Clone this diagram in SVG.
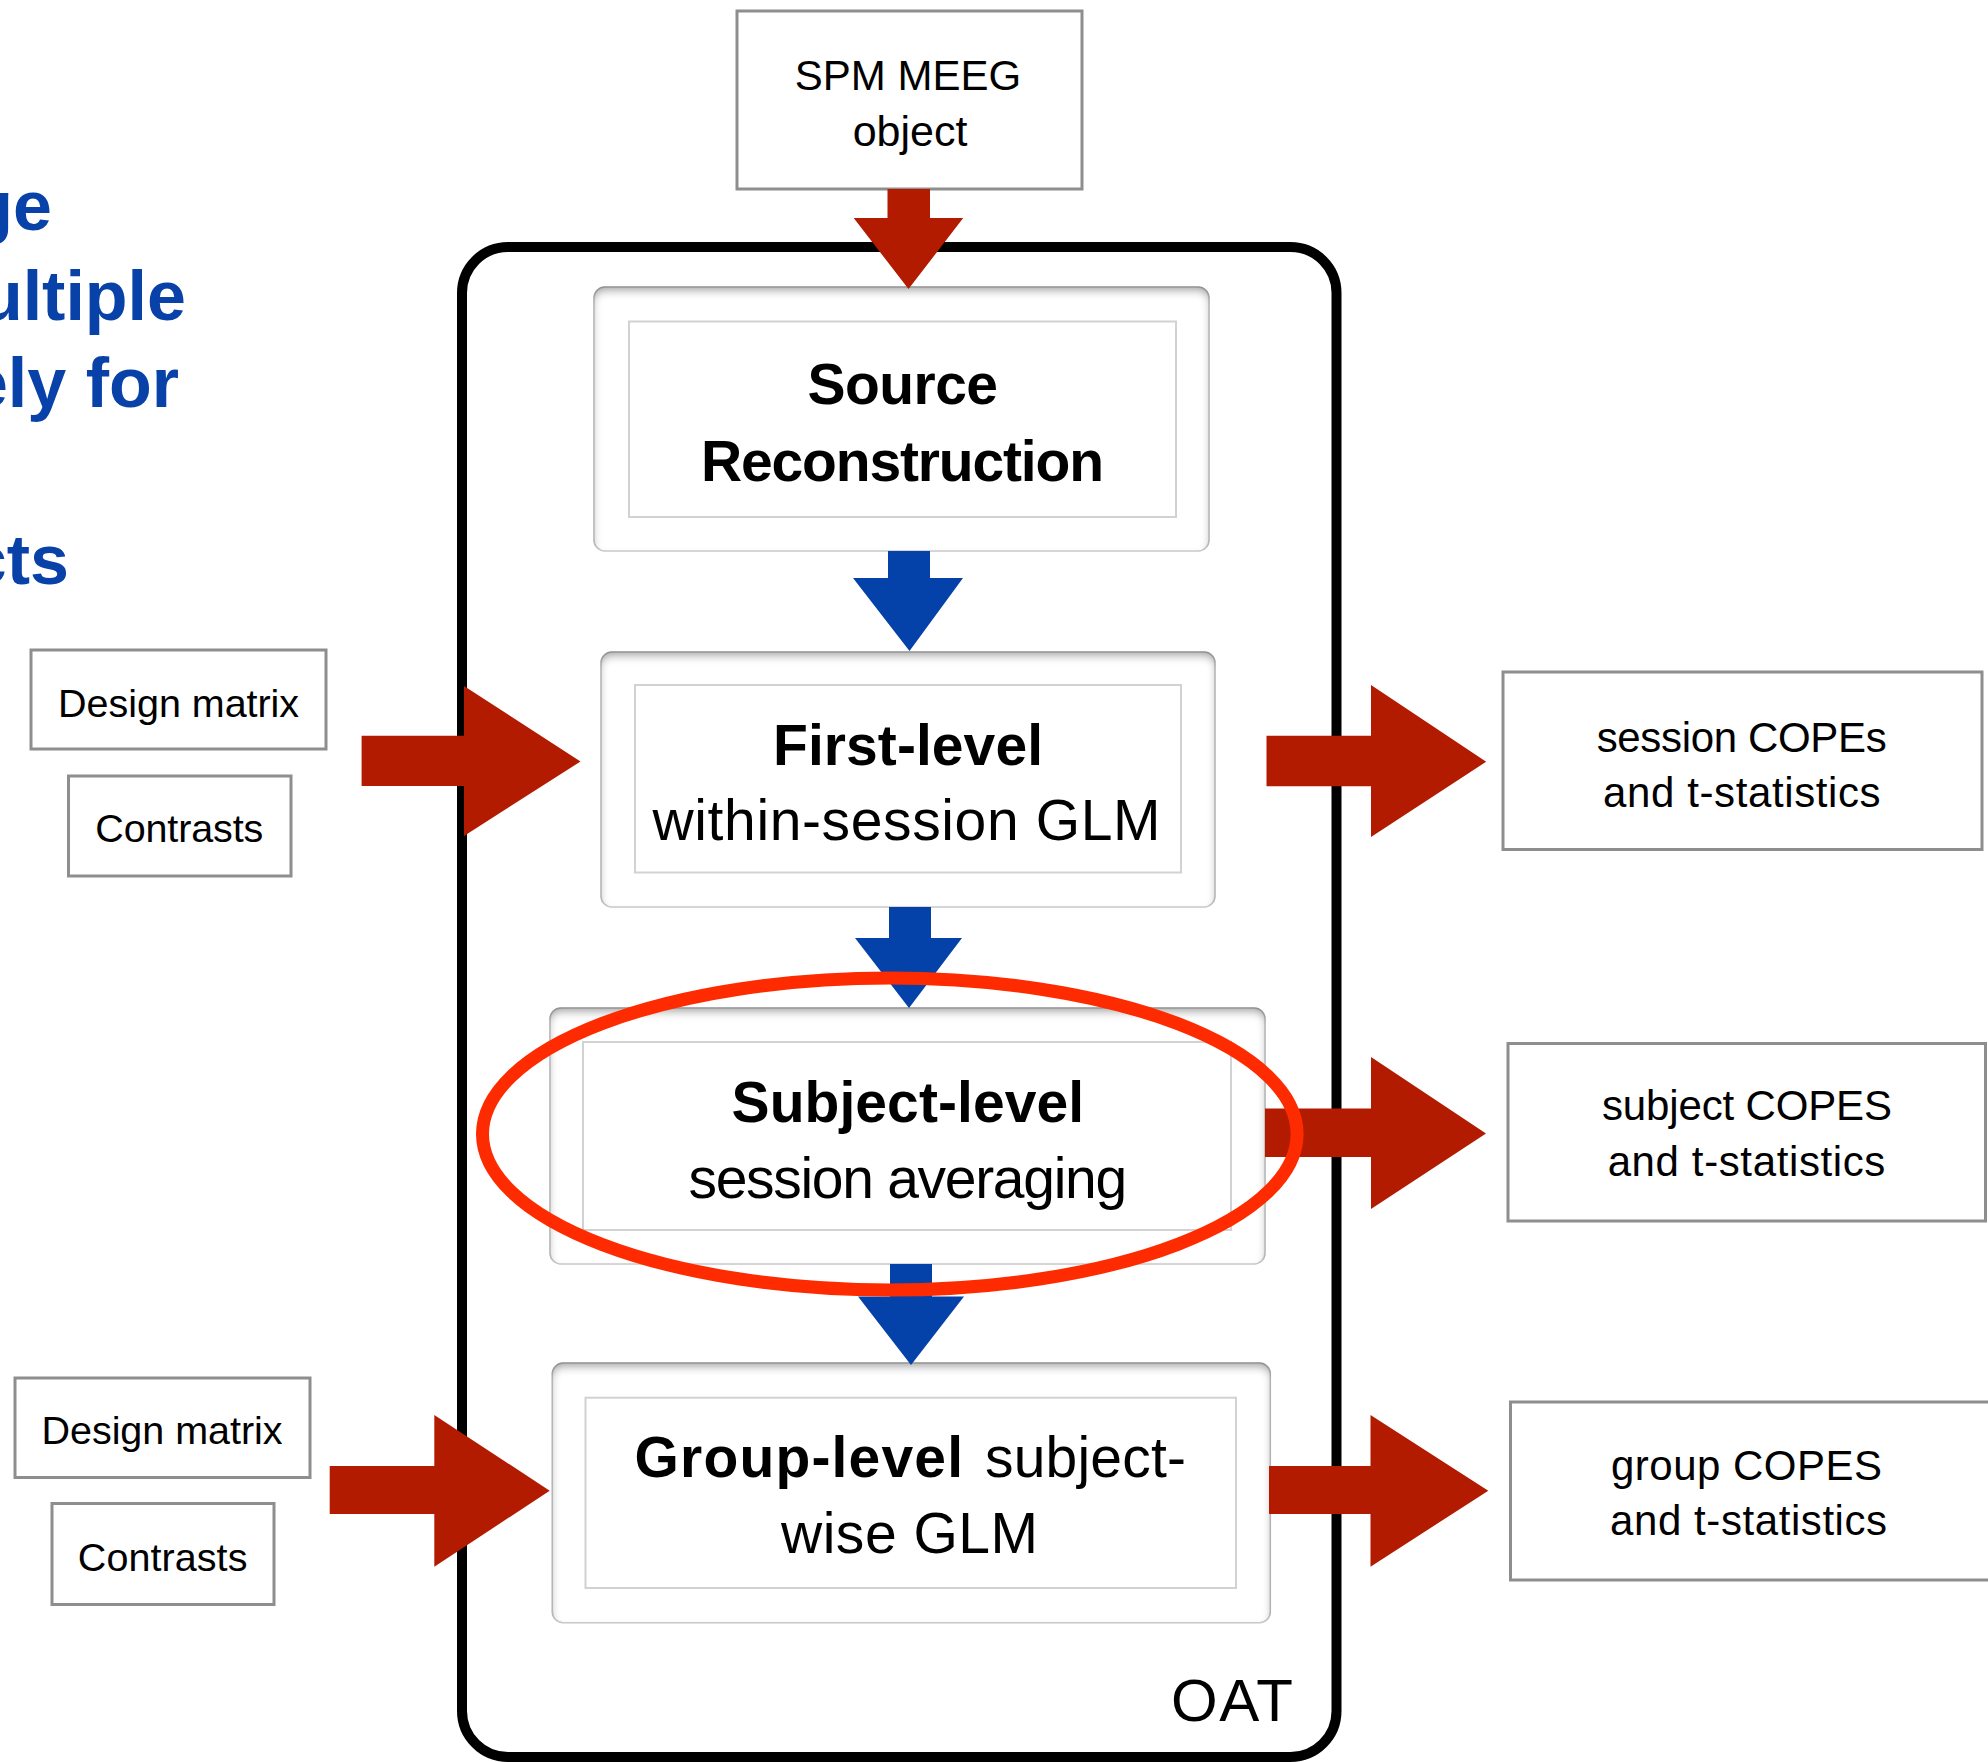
<svg xmlns="http://www.w3.org/2000/svg" width="1988" height="1762" viewBox="0 0 1988 1762">
  <defs>
    <style>
      .t { font-family: "Liberation Sans", Arial, sans-serif; fill: #000; }
      .b { font-weight: bold; }
      .mid { text-anchor: middle; }
      .node-text { font-size: 57px; }
      .out-text { font-size: 42px; }
      .in-text { font-size: 39.5px; }
      .io-box { fill: #fff; stroke: #8e8e8e; stroke-width: 3; }
      .stage-outer { fill: #fff; stroke: #cfcfcf; stroke-width: 1.5; filter: url(#inset); }
      .stage-inner { fill: #fff; stroke: #d2d2d2; stroke-width: 2; }
      .red { fill: #b21b00; }
      .blue { fill: #0442aa; }
      .headline { font-family: "Liberation Sans", Arial, sans-serif; font-weight: bold; font-size: 70px; fill: #0842a8; text-anchor: end; }
    </style>
    <!-- soft inner shadow for the stage boxes, heavier at the top edge -->
    <filter id="inset" x="-5%" y="-10%" width="110%" height="120%">
      <feFlood flood-color="#000" flood-opacity="0.62"/>
      <feComposite in2="SourceAlpha" operator="out"/>
      <feGaussianBlur stdDeviation="4.5"/>
      <feOffset dy="5"/>
      <feComposite in2="SourceAlpha" operator="in" result="shade"/>
      <feMerge>
        <feMergeNode in="SourceGraphic"/>
        <feMergeNode in="shade"/>
      </feMerge>
    </filter>
  </defs>

  <rect width="1988" height="1762" fill="#fff"/>

  <!-- slide heading fragments on the left -->
  <g id="heading">
    <text class="headline" x="52" y="229.5">ge</text>
    <text class="headline" x="186" y="320">ultiple</text>
    <text class="headline" x="179" y="407">ely for</text>
    <text class="headline" x="69" y="584">cts</text>
  </g>

  <!-- OAT container -->
  <g id="oat">
    <rect x="462" y="247" width="874.5" height="1510" rx="46" ry="46" fill="none" stroke="#000" stroke-width="10"/>
    <text class="t" x="1293" y="1720.7" font-size="60" text-anchor="end" textLength="122">OAT</text>
  </g>

  <!-- input / output boxes -->
  <g id="spm-meeg">
    <rect class="io-box" x="737" y="11" width="345" height="178"/>
    <text class="t mid" x="908" y="90" font-size="42">SPM MEEG</text>
    <text class="t mid" x="910" y="145.5" font-size="43">object</text>
  </g>

  <g id="design-matrix-1">
    <rect class="io-box" x="31" y="650" width="295" height="99"/>
    <text class="t mid in-text" x="178.6" y="716.7" textLength="241">Design matrix</text>
  </g>
  <g id="contrasts-1">
    <rect class="io-box" x="68.5" y="776" width="222.5" height="100"/>
    <text class="t mid in-text" x="179.3" y="841.7" textLength="168">Contrasts</text>
  </g>
  <g id="design-matrix-2">
    <rect class="io-box" x="15" y="1378" width="295" height="99.5"/>
    <text class="t mid in-text" x="162" y="1444" textLength="241">Design matrix</text>
  </g>
  <g id="contrasts-2">
    <rect class="io-box" x="52" y="1503.5" width="222" height="101"/>
    <text class="t mid in-text" x="162.6" y="1570.7" textLength="169.6">Contrasts</text>
  </g>

  <g id="session-copes">
    <rect class="io-box" x="1503" y="672" width="479" height="177.5"/>
    <text class="t mid out-text" x="1741.7" y="751.7" textLength="290">session COPEs</text>
    <text class="t mid out-text" x="1741.8" y="807.2" textLength="277.6">and t-statistics</text>
  </g>
  <g id="subject-copes">
    <rect class="io-box" x="1508" y="1043.5" width="477.5" height="177.5"/>
    <text class="t mid out-text" x="1747" y="1120.3" textLength="290">subject COPES</text>
    <text class="t mid out-text" x="1746.5" y="1175.8" textLength="277.7">and t-statistics</text>
  </g>
  <g id="group-copes">
    <rect class="io-box" x="1510.5" y="1402" width="480" height="178"/>
    <text class="t mid out-text" x="1746.5" y="1480" textLength="271">group COPES</text>
    <text class="t mid out-text" x="1748.6" y="1535" textLength="277">and t-statistics</text>
  </g>

  <!-- processing stages -->
  <g id="source-reconstruction">
    <rect class="stage-outer" x="594" y="287" width="615" height="264" rx="11"/>
    <rect class="stage-inner" x="629" y="321.5" width="547" height="195.5"/>
    <text class="t b mid node-text" x="902.7" y="404" textLength="190.6">Source</text>
    <text class="t b mid node-text" x="902.5" y="481" textLength="403">Reconstruction</text>
  </g>

  <g id="first-level">
    <rect class="stage-outer" x="601" y="652" width="614" height="255" rx="11"/>
    <rect class="stage-inner" x="635" y="685" width="546" height="187.5"/>
    <text class="t b mid node-text" x="908" y="765.4" textLength="270">First-level</text>
    <text class="t mid node-text" x="906.5" y="840.4" textLength="508">within-session GLM</text>
  </g>

  <g id="subject-level">
    <rect class="stage-outer" x="550" y="1008" width="715" height="256" rx="11"/>
    <rect class="stage-inner" x="583" y="1042" width="648" height="188"/>
    <text class="t b mid node-text" x="907.8" y="1122" textLength="352.5">Subject-level</text>
    <text class="t mid node-text" x="907.8" y="1198" textLength="438.7">session averaging</text>
  </g>

  <g id="group-level">
    <rect class="stage-outer" x="552.3" y="1363" width="718" height="259.7" rx="11"/>
    <rect class="stage-inner" x="585.5" y="1397.7" width="650.5" height="190.3"/>
    <text class="t b node-text" x="634.6" y="1476.7" textLength="328.4">Group-level</text>
    <text class="t node-text" x="985" y="1476.7" textLength="201">subject-</text>
    <text class="t mid node-text" x="909.5" y="1553.3" textLength="257">wise GLM</text>
  </g>

  <!-- block arrows between stages, inputs and outputs -->
  <g id="connectors">
    <polygon class="red" points="887.5,189 930,189 930,218 963.2,218 908.5,289 853.7,218 887.5,218"/>
    <polygon class="blue" points="888,551 930,551 930,578 963,578 909.5,651 853,578 888,578"/>
    <polygon class="blue" points="889,907 931,907 931,938 962,938 909,1008 855,938 889,938"/>
    <polygon class="blue" points="890,1264 932,1264 932,1296.5 964,1296.5 911,1365 858,1296.5 890,1296.5"/>

    <polygon class="red" points="361.6,735.7 464,735.7 464,686 580.5,761.5 464,836 464,786 361.6,786"/>
    <polygon class="red" points="329.7,1466 434.3,1466 434.3,1415 549.7,1490.7 434.3,1566.7 434.3,1514 329.7,1514"/>

    <polygon class="red" points="1266.5,735.7 1371,735.7 1371,685 1486.2,761.7 1371,837 1371,786.2 1266.5,786.2"/>
    <polygon class="red" points="1265,1108.5 1371,1108.5 1371,1057 1486,1133.5 1371,1209 1371,1157 1265,1157"/>
    <polygon class="red" points="1269,1466 1370.5,1466 1370.5,1415 1488.3,1490.7 1370.5,1566.7 1370.5,1514 1269,1514"/>
  </g>

  <!-- highlight ring around the subject-level stage -->
  <g id="highlight">
    <ellipse cx="889.8" cy="1134" rx="407.3" ry="156" fill="none" stroke="#ff2b00" stroke-width="13"/>
  </g>
</svg>
